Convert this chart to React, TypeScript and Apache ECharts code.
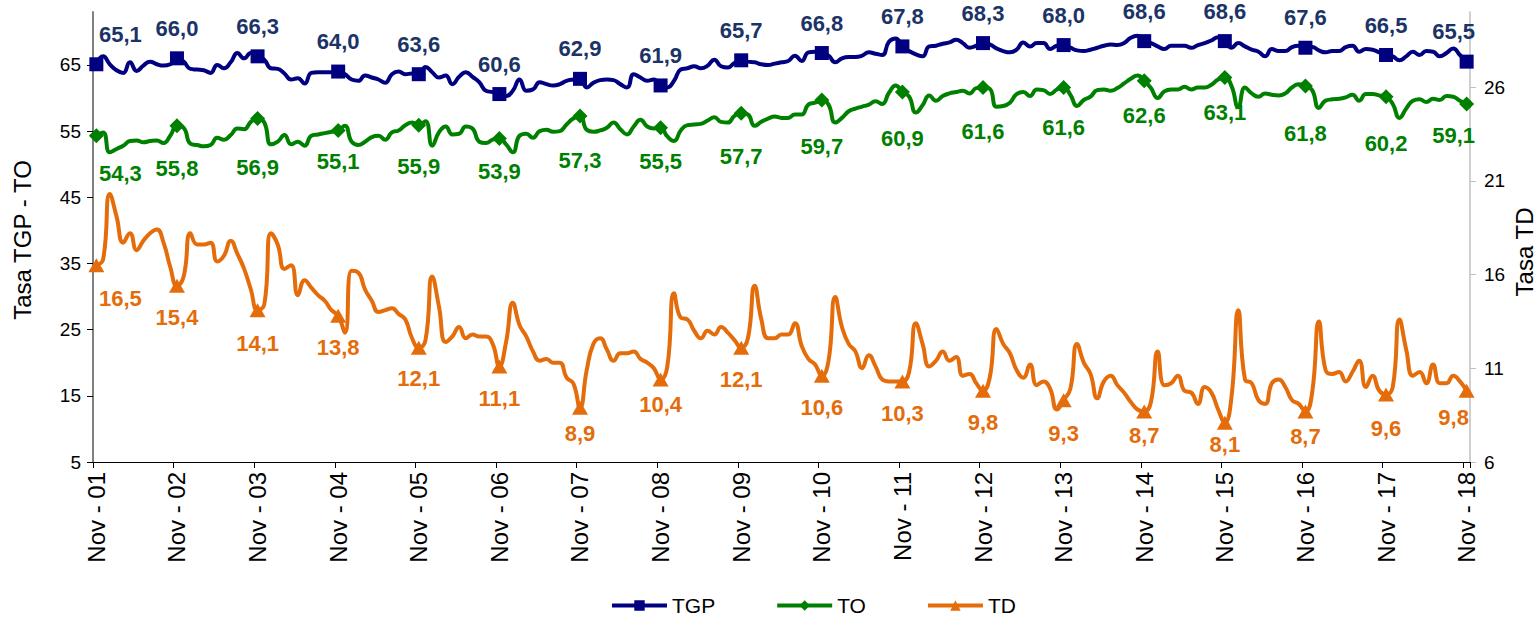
import React, { useEffect, useRef } from 'react';
import * as echarts from 'echarts';

// ---- categories (monthly, Nov 2001 .. Nov 2018) ----
const MONTH_NAMES = ['Ene', 'Feb', 'Mar', 'Abr', 'May', 'Jun', 'Jul', 'Ago', 'Sep', 'Oct', 'Nov', 'Dic'];
const N_POINTS = 205;
const categories: string[] = Array.from({ length: N_POINTS }, (_, i) => {
  const m = (10 + i) % 12;
  const y = 2001 + Math.floor((10 + i) / 12);
  return `${MONTH_NAMES[m]} - ${String(y % 100).padStart(2, '0')}`;
});

// ---- series values ----
const TGP: number[] = [
  65.1, 66.3, 65.1, 64.2, 63.8, 65.4, 64.1, 64.9, 65.5, 65.1, 64.9, 65.1,
  66.0, 65.5, 64.4, 64.3, 64.2, 63.8, 65.0, 64.5, 65.4, 66.8, 66.0, 66.8,
  66.3, 65.8, 64.5, 64.4, 63.7, 62.8, 63.0, 62.2, 63.8, 63.9, 63.9, 63.9,
  64.0, 63.6, 62.8, 62.6, 63.4, 63.1, 62.8, 62.3, 63.6, 64.0, 63.6, 63.7,
  63.6, 64.7, 63.9, 63.1, 63.4, 62.1, 63.2, 63.9, 63.2, 62.4, 61.1, 60.9,
  60.6, 60.3, 61.1, 62.8, 61.1, 61.3, 62.4, 62.1, 61.9, 62.1, 62.6, 62.8,
  62.9, 61.6, 62.3, 62.7, 62.8, 62.7, 62.1, 61.6, 63.6, 63.1, 62.6, 62.8,
  61.9, 61.6, 62.6, 64.3, 64.5, 64.8, 64.5, 64.9, 65.8, 64.8, 64.6, 65.3,
  65.7, 65.5, 65.4, 65.1, 65.0, 65.2, 65.4, 65.6, 66.4, 65.6, 66.9, 67.0,
  66.8, 66.4, 65.4, 66.0, 66.2, 66.2, 66.4, 66.9, 66.7, 66.5, 68.5, 69.0,
  67.8, 67.1, 66.6, 66.3, 67.8, 67.9, 68.2, 68.4, 68.8, 68.3, 67.6, 67.9,
  68.3, 68.1, 67.5, 67.1, 66.9, 67.3, 68.4, 67.8, 68.3, 68.3, 67.4, 67.9,
  68.0, 67.6, 67.2, 67.1, 67.3, 67.6, 67.9, 68.1, 68.0, 68.3, 69.1, 69.4,
  68.6, 68.3, 67.8, 67.4, 67.9, 67.9, 67.9, 67.6, 68.0, 68.3, 68.7, 69.2,
  68.6, 67.6, 68.3, 67.8, 67.3, 67.0, 66.3, 67.4, 67.1, 67.1, 67.7, 67.9,
  67.6, 67.7, 67.2, 66.9, 67.1, 67.1, 67.7, 67.9, 67.0, 67.4, 67.3, 66.9,
  66.5, 66.3, 65.7, 66.3, 67.0, 66.5, 67.1, 67.0, 66.3, 66.8, 67.5, 66.5,
  65.5,
];

const TO: number[] = [
  54.3, 54.8, 51.8, 52.3, 52.8, 53.5, 53.6, 53.3, 53.5, 53.6, 53.2, 54.3,
  55.8, 55.5, 53.1, 52.9, 52.7, 52.9, 54.0, 53.7, 54.4, 55.4, 55.3, 56.4,
  56.9, 56.3, 53.0, 53.4, 54.4, 53.0, 53.4, 52.8, 54.3, 54.5, 54.7, 54.9,
  55.1, 55.8, 53.4, 52.9, 53.4, 54.1, 54.3, 53.7, 54.8, 55.1, 55.9, 56.3,
  55.9, 56.5, 52.8, 54.8, 55.7, 54.5, 54.6, 55.7, 55.4, 53.4, 53.2, 53.7,
  53.9, 53.0, 51.8, 54.3, 54.6, 54.0, 55.0, 55.2, 54.9, 55.0, 56.0, 56.9,
  57.3, 55.2, 54.9, 55.1, 55.5, 56.3, 55.3, 54.5, 55.7, 56.7, 55.7, 55.4,
  55.5, 54.2, 53.5, 55.1, 55.9, 56.0, 56.1, 56.6, 57.1, 56.4, 56.3, 57.3,
  57.7, 57.5, 55.8, 56.4, 56.9, 57.2, 57.0, 57.0, 57.5, 57.5, 59.0, 59.3,
  59.7, 59.0, 56.3, 57.0, 58.0, 58.4, 58.7, 59.0, 59.5, 59.1, 60.8, 61.9,
  60.9, 60.2, 57.8, 58.9, 60.4, 59.6, 60.3, 60.7, 60.9, 61.1, 60.7, 61.5,
  61.6, 61.4, 58.7, 58.8, 59.3, 60.6, 60.9, 60.3, 61.3, 61.2, 60.6, 61.3,
  61.6, 60.5, 58.8, 59.7, 60.2, 61.2, 61.3, 61.1, 61.5, 62.2, 62.9, 63.4,
  62.6, 61.5, 60.0, 61.0, 61.3, 61.3, 61.7, 61.3, 61.6, 61.6, 62.0, 62.8,
  63.1, 61.8, 58.6, 61.6, 60.7, 60.2, 60.7, 60.5, 60.4, 60.7, 61.6, 62.1,
  61.8, 61.2, 58.5, 59.6, 59.8, 59.9, 60.1, 60.5, 59.6, 60.6, 60.6, 60.4,
  60.2, 59.1, 57.0, 58.4, 59.6, 59.8, 59.4, 59.9, 59.7, 60.3, 60.2, 59.6,
  59.1,
];

const TD: number[] = [
  16.5, 16.8, 20.3, 19.1, 17.7, 18.2, 17.3, 17.8, 18.2, 18.4, 17.7, 16.4,
  15.4, 15.9, 18.2, 17.6, 17.6, 17.7, 16.7, 17.0, 17.8, 17.1, 16.3, 15.2,
  14.1, 14.4, 18.2, 17.6, 16.3, 16.5, 14.9, 15.7, 15.3, 14.9, 14.6, 14.1,
  13.8, 12.9, 16.2, 16.1, 15.2, 14.6, 14.0, 14.1, 14.2, 13.9, 13.6, 12.6,
  12.1, 12.5, 15.9, 14.3, 12.4, 12.7, 13.2, 12.6, 12.8, 12.7, 12.7, 12.3,
  11.1, 12.4, 14.5, 13.3, 12.7, 11.9, 11.4, 11.5, 11.3, 11.3, 10.5, 10.2,
  8.9, 10.9, 12.3, 12.6, 12.0, 11.4, 11.8, 11.8, 11.9, 11.5, 11.3, 11.0,
  10.4, 11.1, 15.0, 13.7, 13.6, 13.0, 12.6, 13.0, 12.8, 13.2, 12.9, 12.5,
  12.1, 12.6, 15.4, 13.6, 12.6, 12.6, 12.8, 12.8, 13.4, 12.2, 11.5, 11.2,
  10.6, 11.4, 14.8, 13.2, 12.3, 11.9, 11.0, 11.7, 11.1, 10.4, 10.3, 10.3,
  10.3, 10.8, 13.4, 12.3, 11.1, 11.4, 11.9, 11.4, 11.6, 10.6, 10.7, 10.2,
  9.8, 10.5, 13.1, 12.3, 11.8, 10.9, 10.5, 11.2, 10.1, 10.3, 9.9, 8.8,
  9.3, 9.9, 12.3, 11.3, 10.7, 9.4, 10.3, 10.6, 10.1, 9.7, 9.2, 8.8,
  8.7, 9.2, 11.9, 10.1, 10.2, 10.6, 9.8, 9.7, 9.1, 10.0, 9.7, 8.8,
  8.1, 9.5, 14.1, 10.4, 10.2, 9.3, 9.1, 10.2, 10.4, 10.0, 9.3, 9.1,
  8.7, 9.7, 13.5, 10.9, 10.7, 10.8, 10.3, 10.8, 11.4, 10.0, 10.6, 9.8,
  9.6, 10.0, 13.6, 12.0, 10.6, 10.8, 10.2, 11.2, 10.2, 10.2, 10.6, 10.3,
  9.8,
];

// ---- axis ticks ----
const LEFT_MIN = 5;
const LEFT_MAX = 73;
const LEFT_STEP = 10;
const RIGHT_MIN = 6;
const RIGHT_MAX = 30;
const RIGHT_STEP = 5;

// ---- label placement (per November point, layout only) ----
const TO_LABEL_DY = [37, 42, 48, 31, 41, 33, 44, 33, 43, 46, 46, 44, 40, 34, 34, 47, 46, 31];
const TD_LABEL_DY = [33, 32, 33, 32, 31, 32, 26, 25, 32, 32, 32, 32, 33, 24, 22, 25, 34, 27];

const FONT = 'Liberation Sans, Arial, Helvetica, sans-serif';
const C_TGP = '#000080';
const C_TGP_LABEL = '#1B3366';
const C_TO = '#008000';
const C_TD = '#E46C0A';

const fmt = (v: number) => v.toFixed(1).replace('.', ',');

function buildData(values: number[], labelFor: (k: number) => any) {
  const last = values.length - 1;
  return values.map((v, i) => {
    if (i % 12 !== 0) return { value: v, symbol: 'none' };
    const k = i / 12;
    const lbl = labelFor(k);
    let dx = 0;
    if (i === 0) dx = 24;
    if (i === last) dx = -13;
    return { value: v, label: { show: true, offset: [dx, 0], ...lbl } };
  });
}

const option: any = {
  animation: false,
  backgroundColor: '#ffffff',
  textStyle: { fontFamily: FONT },
  grid: { left: 93, right: 67, top: 12, bottom: 156, containLabel: false, outerBoundsMode: 'none' },
  legend: {
    data: ['TGP', 'TO', 'TD'],
    top: 595,
    left: 610,
    padding: 0,
    itemWidth: 55,
    itemHeight: 13,
    itemGap: 60,
    lineStyle: { width: 4 },
    textStyle: { fontSize: 21, color: '#000', fontFamily: FONT },
  },
  xAxis: {
    type: 'category',
    data: categories,
    boundaryGap: true,
    axisLine: { show: true, lineStyle: { color: '#000', width: 1 } },
    axisTick: { show: true, interval: 11, length: 6, lineStyle: { color: '#000' } },
    axisLabel: { interval: 11, rotate: 90, fontSize: 24, color: '#000', margin: 10, fontFamily: FONT },
    splitLine: { show: false },
  },
  yAxis: [
    {
      type: 'value',
      position: 'left',
      min: LEFT_MIN,
      max: LEFT_MAX,
      interval: LEFT_STEP,
      axisLine: { show: true, lineStyle: { color: '#808080', width: 2 } },
      axisTick: { show: true, length: 6, lineStyle: { color: '#000' } },
      axisLabel: { fontSize: 19, color: '#000', margin: 12, showMaxLabel: false, fontFamily: FONT },
      splitLine: { show: false },
    },
    {
      type: 'value',
      position: 'right',
      min: RIGHT_MIN,
      max: RIGHT_MAX,
      interval: RIGHT_STEP,
      axisLine: { show: true, lineStyle: { color: '#c0c0c0', width: 1.5 } },
      axisTick: { show: true, length: 6, lineStyle: { color: '#c0c0c0' } },
      axisLabel: { fontSize: 19, color: '#000', margin: 14, showMaxLabel: false, fontFamily: FONT },
      splitLine: { show: false },
    },
  ],
  graphic: [
    {
      type: 'text',
      x: 22,
      y: 240,
      rotation: Math.PI / 2,
      style: {
        text: 'Tasa TGP - TO',
        fontSize: 24,
        fontFamily: FONT,
        fill: '#000',
        align: 'center',
        verticalAlign: 'middle',
        textAlign: 'center',
        textVerticalAlign: 'middle',
      },
    },
    {
      type: 'text',
      x: 1524,
      y: 252,
      rotation: Math.PI / 2,
      style: {
        text: 'Tasa TD',
        fontSize: 24,
        fontFamily: FONT,
        fill: '#000',
        align: 'center',
        verticalAlign: 'middle',
        textAlign: 'center',
        textVerticalAlign: 'middle',
      },
    },
  ],
  series: [
    {
      name: 'TGP',
      type: 'line',
      yAxisIndex: 0,
      smooth: 0.5,
      showAllSymbol: true,
      symbol: 'rect',
      symbolSize: 14,
      lineStyle: { color: C_TGP, width: 4 },
      itemStyle: { color: C_TGP },
      label: {
        show: false,
        position: 'top',
        distance: 12,
        color: C_TGP_LABEL,
        fontSize: 22,
        fontWeight: 'bold',
        fontFamily: FONT,
        formatter: (p: any) => fmt(p.value),
      },
      data: buildData(TGP, () => ({})),
      z: 3,
    },
    {
      name: 'TO',
      type: 'line',
      yAxisIndex: 0,
      smooth: 0.5,
      showAllSymbol: true,
      symbol: 'diamond',
      symbolSize: 15,
      lineStyle: { color: C_TO, width: 4 },
      itemStyle: { color: C_TO },
      label: {
        show: false,
        position: 'bottom',
        distance: 20,
        color: C_TO,
        fontSize: 22,
        fontWeight: 'bold',
        fontFamily: FONT,
        formatter: (p: any) => fmt(p.value),
      },
      data: buildData(TO, (k) => ({ distance: TO_LABEL_DY[k] - 18 })),
      z: 3,
    },
    {
      name: 'TD',
      type: 'line',
      yAxisIndex: 1,
      smooth: 0.5,
      showAllSymbol: true,
      symbol: 'triangle',
      symbolSize: [16, 14],
      lineStyle: { color: C_TD, width: 4 },
      itemStyle: { color: C_TD },
      label: {
        show: false,
        position: 'bottom',
        distance: 13,
        color: C_TD,
        fontSize: 22,
        fontWeight: 'bold',
        fontFamily: FONT,
        formatter: (p: any) => fmt(p.value),
      },
      data: buildData(TD, (k) => ({ distance: TD_LABEL_DY[k] - 18 })),
      z: 3,
    },
  ],
};

export default function App() {
  const ref = useRef<HTMLDivElement>(null);
  useEffect(() => {
    if (!ref.current) return;
    const chart = echarts.init(ref.current, null, { renderer: 'svg' });
    chart.setOption(option);
    return () => {
      chart.dispose();
    };
  }, []);
  return (
    <div
      ref={ref}
      style={{ position: 'fixed', left: 0, top: 0, width: 1537, height: 618, background: '#ffffff' }}
    />
  );
}
